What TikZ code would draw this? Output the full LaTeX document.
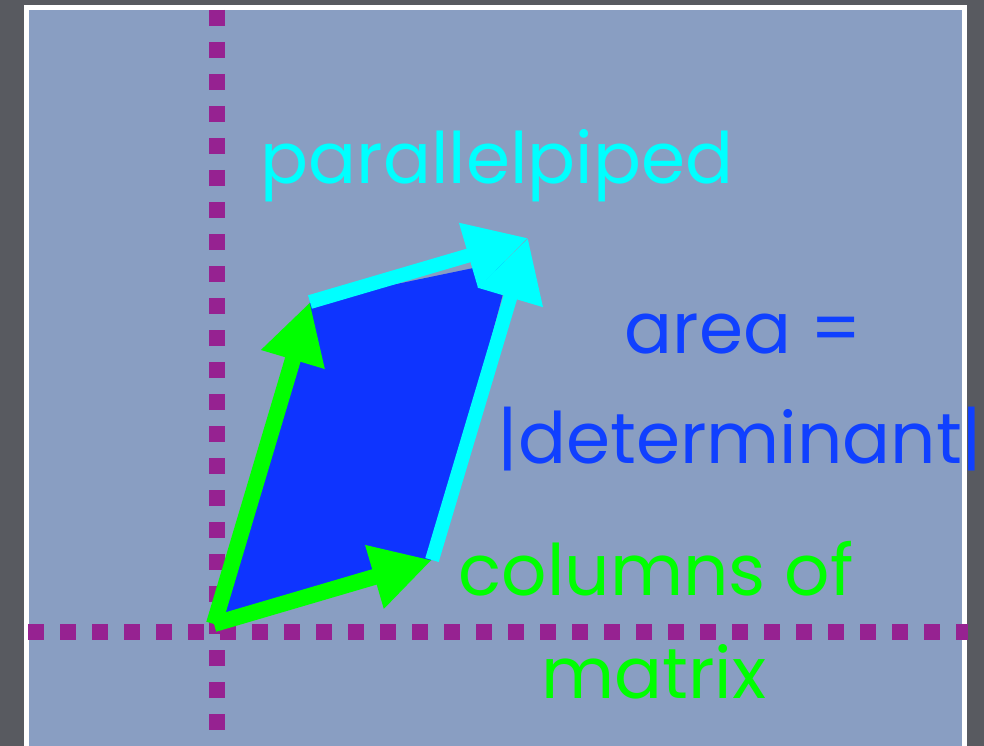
\documentclass[tikz,border=0pt]{standalone}
\usepackage{fontspec}
\setmainfont{Poppins}
\usetikzlibrary{arrows.meta, calc}
\definecolor{SlideGray}{RGB}{88,90,96}
\definecolor{PanelBlue}{RGB}{137,158,194}
\definecolor{AxisPurple}{RGB}{150,34,145}
\definecolor{AreaBlue}{RGB}{14,52,255}
\definecolor{VecGreen}{RGB}{0,255,0}
\definecolor{VecCyan}{RGB}{0,255,255}
\definecolor{TextBlue}{RGB}{16,64,255}
\tikzset{
  axisline/.style={draw=AxisPurple, line width=16pt, dash pattern=on 16pt off 16pt},
  garr/.style={-{Triangle[length=60pt,width=62pt]}, draw=VecGreen, line width=16pt},
  carr/.style={-{Triangle[length=62pt,width=64pt]}, draw=VecCyan, line width=14pt},
  lbl/.style={font=\fontsize{71}{80}\selectfont, anchor=base, inner sep=0pt}
}
\begin{document}
\begin{tikzpicture}[x=1pt, y=-1pt]
  \useasboundingbox (0,0) rectangle (984,746);
  \fill[SlideGray] (0,0) rectangle (984,746);

  % slide panel
  \filldraw[fill=PanelBlue, draw=white, line width=5pt] (26.5,7.5) rectangle (964.5,760);

  % axes
  \draw[axisline] (217,10) -- (217,746);
  \draw[axisline] (28,632) -- (968,632);

  % corners of the parallelogram
  \coordinate (O) at (214,624);
  \coordinate (A) at (310,302);
  \coordinate (B) at (432,560);
  \coordinate (C) at (528,238);

  \fill[AreaBlue] (O) -- (B) -- ($(C)+(-16,22)$) -- (A) -- cycle;

  % column vectors
  \draw[garr] (O) -- (A);
  \draw[garr] (O) -- (B);

  % translated copies
  \draw[carr] (A) -- (C);
  \draw[carr] (B) -- (C);

  % labels
  \node[lbl, text=VecCyan] (par) at (497,183) {parallelpiped};
  \node[lbl, text=TextBlue] (area) at (743,353) {area =};
  \node[lbl, text=TextBlue] (det) at (740,463) {|determinant|};
  \node[lbl, text=VecGreen] (cols) at (656,595) {columns of};
  \node[lbl, text=VecGreen] (mat) at (654,698) {matrix};
\end{tikzpicture}
\end{document}
